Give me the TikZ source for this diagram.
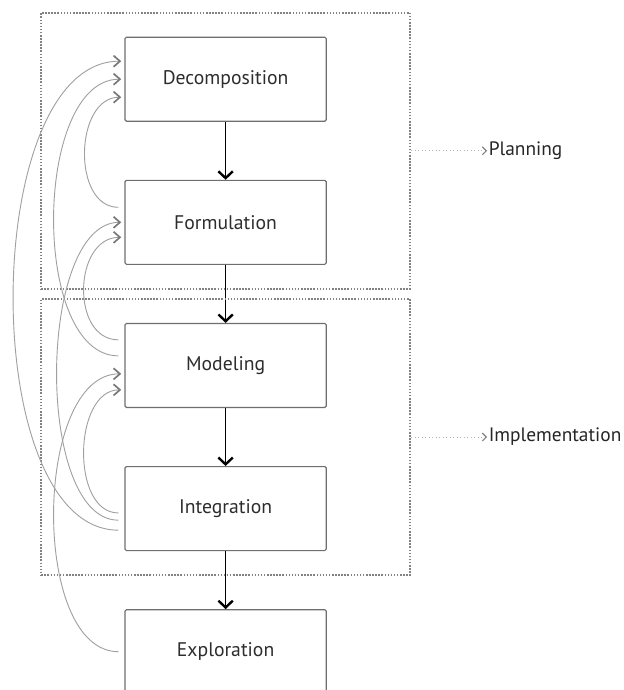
\documentclass[tikz,border=0pt]{standalone}
\usepackage{fontspec}
\setmainfont{PT Sans}
\usepackage{tikz}
\usetikzlibrary{arrows.meta,positioning,calc,fit}
\usepackage{xcolor}
\definecolor{boxline}{RGB}{110,110,110}
\definecolor{fbgray}{RGB}{160,160,160}
\definecolor{fbhead}{RGB}{120,120,120}
\definecolor{dotgray}{RGB}{130,130,130}
\definecolor{txtgray}{RGB}{45,45,45}

\begin{document}
\begin{tikzpicture}[
    stage/.style={draw=boxline, line width=0.8pt, rounded corners=1pt, minimum width=5.03cm, minimum height=2.1cm,
        font=\fontsize{14}{16}\selectfont, text=txtgray},
    flow/.style={-{Straight Barb[length=1.7mm, width=3.6mm, line width=1.7pt]}, line width=1pt, black},
    back/.style={-{Straight Barb[length=1.6mm, width=2.8mm, line width=1.2pt, color=fbhead]}, line width=0.65pt, fbgray},
    phase/.style={draw=dotgray, line width=1.6pt, dash pattern=on 1.1pt off 1.1pt},
    phaselbl/.style={font=\fontsize{13.8}{16}\selectfont, text=black!85, inner sep=1pt, anchor=west},
    tag/.style={-{Straight Barb[length=1mm, width=2mm, line width=0.8pt, color=dotgray]}, dotgray!60, line width=0.5pt, dotted},
    node distance=1.45cm
]
\useasboundingbox (0,0) rectangle (15.575,17.25);

% === Stages ===
\node[stage] (decomp) at (5.64, 15.27) {Decomposition};
\node[stage, below=of decomp] (form) {Formulation};
\node[stage, below=of form] (model) {Modeling};
\node[stage, below=of model] (integ) {Integration};
\node[stage, below=of integ] (explor) {Exploration};

\draw[flow] (decomp) -- (form);
\draw[flow] (form) -- (model);
\draw[flow] (model) -- (integ);
\draw[flow] (integ) -- (explor);

% === Phases ===
\node[phase, fit=(decomp)(form), inner xsep=2.08cm, inner ysep=0.6cm] (plan) {};
\node[phase, fit=(model)(integ), inner xsep=2.08cm, inner ysep=0.6cm] (impl) {};

\node[phaselbl, right=1.9cm of plan.east] (planlbl) {Planning};
\node[phaselbl, right=1.9cm of impl.east] (impllbl) {Implementation};
\draw[tag] (plan.east) -- (planlbl.west);
\draw[tag] (impl.east) -- (impllbl.west);

% === Feedback loops ===
\foreach \src/\sy/\dst/\dy/\bend in {
    form/0.375/decomp/-0.45/1.17,
    model/0.64/form/-0.375/1.2,
    model/0.24/decomp/0/2.2,
    integ/-0.11/model/-0.61/1.2,
    integ/-0.29/form/0/2.1,
    integ/-0.54/decomp/0.45/3.55,
    explor/0/model/-0.21/2.2} {
    \draw[back] ($(\src.west)+(-0.15,\sy)$) .. controls +(-\bend,0) and +(-\bend,0) .. ($(\dst.west)+(-0.08,\dy)$);
}

\end{tikzpicture}
\end{document}
